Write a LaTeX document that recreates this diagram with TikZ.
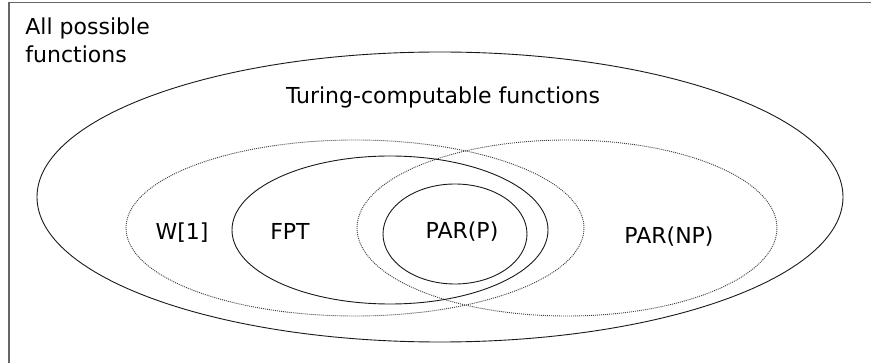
\documentclass[tikz,border=0pt]{standalone}
\usepackage{fontspec}
\setmainfont{DejaVu Sans}
\usepackage{tikz}

\begin{document}
\begin{tikzpicture}[x=1pt,y=-1pt,line width=0.9pt]
\tikzstyle{every node}=[font=\fontsize{22}{28}\selectfont,inner sep=0pt]
\tikzstyle{cls}=[black!90]
\tikzstyle{dotcls}=[black!75,dash pattern=on 1pt off 1pt]

\useasboundingbox (0,0) rectangle (871,363);
\draw[black!60,line width=1.5pt] (9,363) -- (9,2.5) -- (871,2.5);

% sets
\draw[cls] (440,197) ellipse [x radius=403pt, y radius=145pt];
\draw[dotcls] (355,228) ellipse [x radius=229pt, y radius=88pt];
\draw[dotcls] (567,228) ellipse [x radius=210pt, y radius=88pt];
\draw[cls] (390,230) ellipse [x radius=158pt, y radius=74pt];
\draw[cls] (455,234) ellipse [x radius=72pt, y radius=50pt];

% labels
\node[anchor=base west] (all) at (25,35) {All possible};
\node[anchor=base west] (all2) at (25,63) {functions};
\node[anchor=base] (tur) at (443,104) {Turing-computable functions};
\node[anchor=base] (w1) at (182,240) {W[1]};
\node[anchor=base] (fpt) at (290,240) {FPT};
\node[anchor=base] (parp) at (462,239) {PAR(P)};
\node[anchor=base] (parnp) at (669,244) {PAR(NP)};

\end{tikzpicture}
\end{document}
